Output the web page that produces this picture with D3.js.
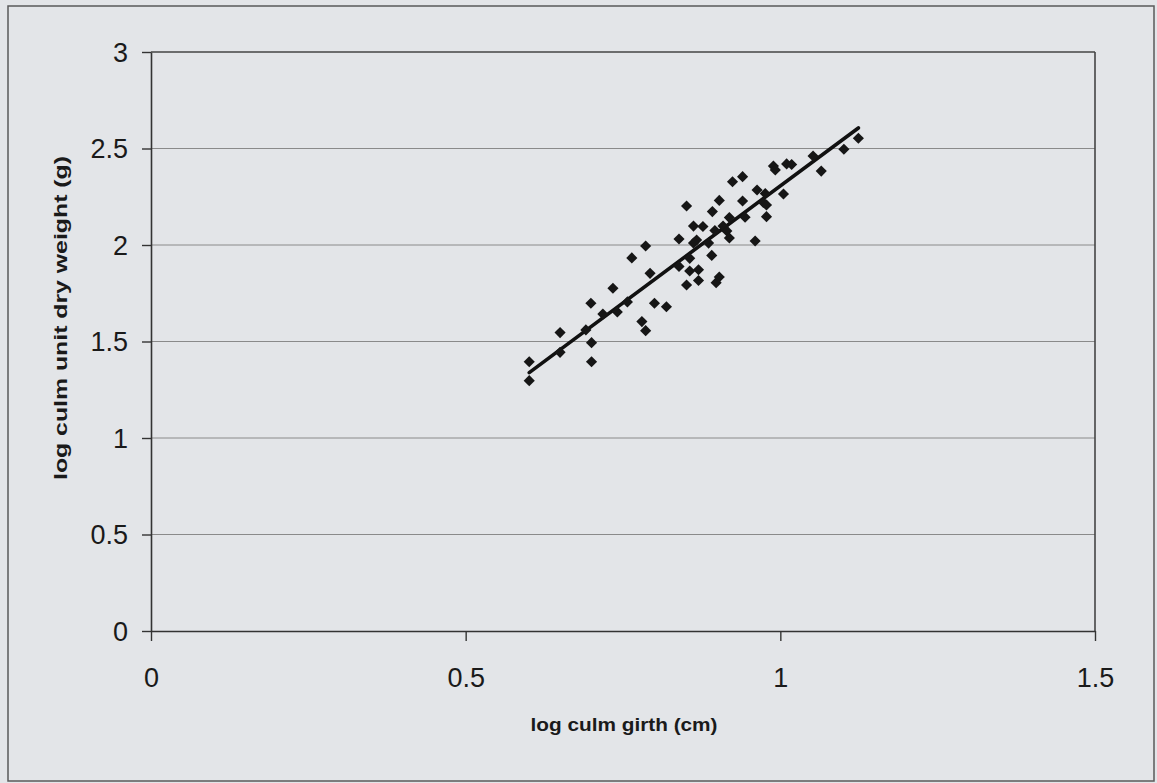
<!DOCTYPE html>
<html>
<head>
<meta charset="utf-8">
<script src="https://cdn.jsdelivr.net/npm/d3@7"></script>
<style>
html,body{margin:0;padding:0;background:#e3e5e8;}
svg{display:block;}
</style>
</head>
<body>
<svg id="chart" width="1157" height="783"></svg>
<script>
// ---- data ----
const girth = [0.601,0.601,0.650,0.650,0.700,0.700,0.691,0.699,0.718,0.734,0.741,0.757,0.764,0.786,0.780,0.786,0.793,0.800,0.819,0.839,0.839,0.856,0.856,0.870,0.851,0.870,0.867,0.886,0.862,0.891,0.898,0.903,0.862,0.877,0.896,0.909,0.915,0.919,0.960,0.851,0.903,0.892,0.919,0.944,0.978,0.940,0.963,0.976,1.005,0.973,0.978,0.924,0.940,0.989,0.992,1.010,1.018,1.065,1.052,1.101,1.124];
const weight = [1.395,1.297,1.546,1.444,1.494,1.395,1.560,1.698,1.642,1.776,1.653,1.705,1.933,1.995,1.603,1.556,1.853,1.698,1.680,2.031,1.889,1.931,1.865,1.872,1.793,1.816,2.026,2.010,2.010,1.946,1.805,1.834,2.098,2.096,2.075,2.098,2.073,2.036,2.021,2.202,2.231,2.173,2.142,2.144,2.147,2.228,2.285,2.267,2.264,2.220,2.207,2.328,2.354,2.409,2.389,2.420,2.417,2.383,2.461,2.496,2.553];
const trendSlope = 2.424;
const trendIntercept = -0.118;
const xTicks = [0, 0.5, 1, 1.5];
const yTicks = [0, 0.5, 1, 1.5, 2, 2.5, 3];
const xTitle = "log culm girth (cm)";
const yTitle = "log culm unit dry weight (g)";

const svg = d3.select("#chart");
const L = 151, R = 1095, T = 52, B = 631;
const x = d3.scaleLinear().domain([0, 1.5]).range([L, R]);
const y = d3.scaleLinear().domain([0, 3]).range([B, T]);

// outer chart border
svg.append("rect").attr("x", 8).attr("y", 6).attr("width", 1146).attr("height", 775)
  .attr("fill", "#e3e5e8").attr("stroke", "#5a5a5a").attr("stroke-width", 1.5);

// gridlines
svg.append("g").selectAll("line").data(yTicks.filter(d => d > 0)).join("line")
  .attr("x1", L).attr("x2", R).attr("y1", d => y(d)).attr("y2", d => y(d))
  .attr("stroke", d => d === 3 ? "#444" : "#8a8a8a")
  .attr("stroke-width", d => d === 3 ? 1.6 : 1);

// right border of plot
svg.append("line").attr("x1", R).attr("x2", R).attr("y1", T).attr("y2", B)
  .attr("stroke", "#444").attr("stroke-width", 1.6);

// axes
const xAxis = d3.axisBottom(x).tickValues(xTicks).tickSize(10).tickSizeOuter(0)
  .tickFormat(d => d3.format("")(d));
const yAxis = d3.axisLeft(y).tickValues(yTicks).tickSize(9).tickSizeOuter(0)
  .tickFormat(d => d3.format("")(d));

const gx = svg.append("g").attr("transform", `translate(0,${B})`).call(xAxis);
const gy = svg.append("g").attr("transform", `translate(${L},0)`).call(yAxis);
[gx, gy].forEach(g => {
  g.select(".domain").attr("stroke", "#333").attr("stroke-width", 1.6);
  g.selectAll(".tick line").attr("stroke", "#333").attr("stroke-width", 1.4);
  g.selectAll(".tick text").attr("fill", "#1a1a1a")
    .attr("font-family", "'Liberation Sans', Arial, sans-serif").attr("font-size", 27);
});
gx.selectAll(".tick text").attr("dy", 0).attr("y", 56);
gy.selectAll(".tick text").attr("x", -23).attr("dy", "0.35em");

// trendline
const xs = d3.extent(girth);
svg.append("line")
  .attr("x1", x(xs[0])).attr("y1", y(trendSlope * xs[0] + trendIntercept))
  .attr("x2", x(xs[1])).attr("y2", y(trendSlope * xs[1] + trendIntercept))
  .attr("stroke", "#111").attr("stroke-width", 3.6).attr("stroke-linecap", "round");

// points
const sym = d3.symbol().type(d3.symbolSquare).size(62);
svg.append("g").selectAll("path").data(girth.map((g, i) => [g, weight[i]])).join("path")
  .attr("d", sym)
  .attr("transform", d => `translate(${x(d[0])},${y(d[1])}) rotate(45)`)
  .attr("fill", "#161616");

// titles
svg.append("text").attr("x", 624).attr("y", 731).attr("text-anchor", "middle")
  .attr("font-family", "'Liberation Sans', Arial, sans-serif").attr("font-weight", "bold")
  .attr("font-size", 19).attr("fill", "#1a1a1a")
  .attr("textLength", 187).attr("lengthAdjust", "spacingAndGlyphs")
  .text(xTitle);
svg.append("text").attr("transform", "translate(67,318) rotate(-90)").attr("text-anchor", "middle")
  .attr("font-family", "'Liberation Sans', Arial, sans-serif").attr("font-weight", "bold")
  .attr("font-size", 19).attr("fill", "#1a1a1a")
  .attr("textLength", 324).attr("lengthAdjust", "spacingAndGlyphs")
  .text(yTitle);
</script>
</body>
</html>
